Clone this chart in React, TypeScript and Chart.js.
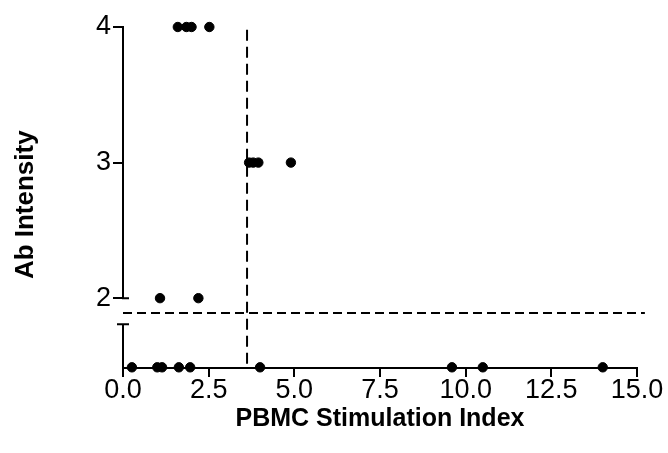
import React, { useEffect, useRef } from "react";
import { Chart, registerables } from "chart.js";

Chart.register(...registerables);

// Data
const row4X = [1.6, 1.85, 2.0, 2.52];
const row3X = [3.68, 3.8, 3.95, 4.9];
const row2X = [1.08, 2.2];
const baseX = [0.26, 1.0, 1.14, 1.63, 1.96, 4.0, 9.6, 10.5, 14.0];
const baseY = 1.49;
const yTicks = [2, 3, 4];
const xMin = 0;
const xMax = 15;
const xStep = 2.5;
const yMin = 1.485;
const yMax = 4;
const breakTop = 2; // upper axis segment ends here
const breakBottom = 1.808; // lower axis segment starts here
const cutoffX = 3.62; // vertical dashed line
const cutoffY = 1.89; // horizontal dashed line
const hLineEndX = 15.23;
const vLineTopY = 3.98;

const FONT = "'Liberation Sans', Arial, Helvetica, sans-serif";

const brokenAxisPlugin = {
  id: "brokenAxis",
  afterDraw(chart: any) {
    const { ctx, chartArea, scales } = chart;
    const y = scales.y;
    const x0 = chartArea.left;
    ctx.save();
    ctx.strokeStyle = "#000";
    ctx.lineWidth = 2;
    ctx.lineCap = "butt";
    // upper segment
    const yTop = y.getPixelForValue(yMax) - 1;
    const y2 = y.getPixelForValue(breakTop);
    ctx.beginPath();
    ctx.moveTo(x0, yTop);
    ctx.lineTo(x0, y2);
    ctx.moveTo(x0 - 1, y2);
    ctx.lineTo(x0 + 6, y2);
    // lower segment
    const yb = y.getPixelForValue(breakBottom);
    ctx.moveTo(x0, yb);
    ctx.lineTo(x0, chartArea.bottom);
    ctx.moveTo(x0 - 6, yb);
    ctx.lineTo(x0 + 6, yb);
    ctx.stroke();
    ctx.restore();
  },
};

export default function App() {
  const ref = useRef<HTMLCanvasElement>(null);
  useEffect(() => {
    document.body.style.margin = "0";
    const toPts = (xs: number[], yv: number) => xs.map((v) => ({ x: v, y: yv }));
    const dot = (label: string, xs: number[], yv: number) => ({
      label,
      data: toPts(xs, yv),
      backgroundColor: "#000",
      borderColor: "#000",
      pointRadius: 4.7,
      clip: false,
    });
    const chart = new Chart(ref.current!, {
      type: "scatter",
      data: {
        datasets: [
          dot("Ab 4", row4X, 4),
          dot("Ab 3", row3X, 3),
          dot("Ab 2", row2X, 2),
          dot("Ab 0", baseX, baseY),
          {
            label: "vline",
            type: "line",
            data: [
              { x: cutoffX, y: vLineTopY },
              { x: cutoffX, y: yMin },
            ],
            borderColor: "#000",
            borderWidth: 2,
            borderDash: [11, 6],
            pointRadius: 0,
            clip: false,
          } as any,
          {
            label: "hline",
            type: "line",
            data: [
              { x: xMin, y: cutoffY },
              { x: hLineEndX, y: cutoffY },
            ],
            borderColor: "#000",
            borderWidth: 2,
            borderDash: [9, 5],
            pointRadius: 0,
            clip: false,
          } as any,
        ] as any,
      },
      options: {
        animation: false,
        responsive: false,
        maintainAspectRatio: false,
        layout: { padding: { left: 0, right: 31, top: 27, bottom: 0 } },
        plugins: { legend: { display: false }, tooltip: { enabled: false } },
        scales: {
          x: {
            type: "linear",
            min: xMin,
            max: xMax,
            ticks: {
              stepSize: xStep,
              color: "#000",
              font: { family: FONT, size: 27 },
              padding: -3,
              maxRotation: 0,
              callback: (v: any) => Number(v).toFixed(1),
            },
            grid: {
              display: true,
              drawOnChartArea: false,
              drawTicks: true,
              tickLength: 9,
              color: "#000",
              lineWidth: 2,
            },
            border: { display: true, color: "#000", width: 2 },
            title: {
              display: true,
              text: "PBMC Stimulation Index",
              color: "#000",
              font: { family: FONT, size: 25, weight: "bold" },
              padding: { top: 0, bottom: 19 },
            },
            afterFit: (s: any) => {
              s.height = 85;
            },
          },
          y: {
            type: "linear",
            min: yMin,
            max: yMax,
            afterBuildTicks: (s: any) => {
              s.ticks = yTicks.map((v) => ({ value: v }));
            },
            ticks: {
              color: "#000",
              font: { family: FONT, size: 27 },
              padding: 2,
              callback: (v: any) => String(v),
            },
            grid: {
              display: true,
              drawOnChartArea: false,
              drawTicks: true,
              tickLength: 10,
              color: "#000",
              lineWidth: 2,
            },
            border: { display: false },
            title: {
              display: true,
              text: "Ab Intensity  ",
              color: "#000",
              font: { family: FONT, size: 26, weight: "bold" },
              padding: { top: 10, bottom: 0 },
            },
            afterFit: (s: any) => {
              s.width = 123;
            },
          },
        },
      },
      plugins: [brokenAxisPlugin],
    });
    return () => chart.destroy();
  }, []);
  return (
    <div style={{ width: 668, height: 453 }}>
      <canvas ref={ref} width={668} height={453} style={{ display: "block" }} />
    </div>
  );
}
